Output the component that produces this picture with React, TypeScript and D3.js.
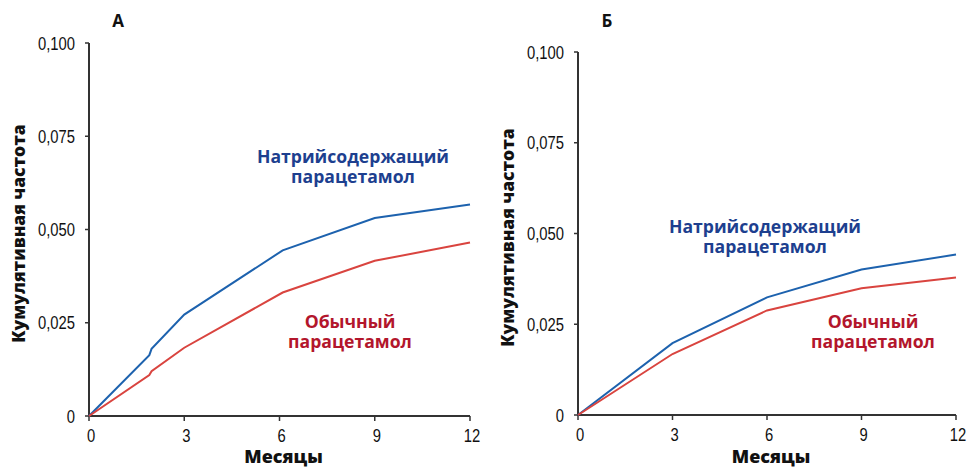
import React from 'react';
import * as d3 from 'd3';

type Pt = [number, number];

const xTicks = [0, 3, 6, 9, 12];
const yTicks = [0, 0.025, 0.05, 0.075, 0.1];
const yTickLabels = ['0', '0,025', '0,050', '0,075', '0,100'];

// Панель А
const sodiumA: Pt[] = [
  [0, 0], [1.9, 0.0163], [1.97, 0.018], [3, 0.0272], [6.1, 0.0444], [9, 0.0531], [12, 0.0567],
];
const regularA: Pt[] = [
  [0, 0], [1.9, 0.011], [1.97, 0.012], [3, 0.0183], [6.1, 0.0331], [9, 0.0416], [12, 0.0465],
];
// Панель Б
const sodiumB: Pt[] = [
  [0, 0], [3, 0.0198], [6, 0.0324], [9, 0.0401], [12, 0.0442],
];
const regularB: Pt[] = [
  [0, 0], [3, 0.0168], [6, 0.0288], [9, 0.0349], [12, 0.0379],
];

const BLUE_LINE = '#1d62ae';
const RED_LINE = '#d9443f';
const BLUE_TEXT = '#1d3f8f';
const RED_TEXT = '#b3162c';
const AXIS = '#333';
const tickFont = "'Liberation Sans', Arial, sans-serif";
const boldFont = "'Open Sans', 'Noto Sans', sans-serif";

type PanelProps = {
  letter: string;
  sodium: Pt[];
  regular: Pt[];
  x0: number;
  x1: number;
  yTop: number;
  yBottom: number;
  blueLabel: [number, number];
  redLabel: [number, number];
};

const Panel: React.FC<PanelProps> = ({ letter, sodium, regular, x0, x1, yTop, yBottom, blueLabel, redLabel }) => {
  const x = d3.scaleLinear().domain([0, 12]).range([x0, x1]);
  const y = d3.scaleLinear().domain([0, 0.1]).range([yBottom, yTop]);
  const line = d3.line<Pt>().x(d => x(d[0])).y(d => y(d[1]));
  const lbl = (a: string, b: string, cx: number, cy: number, fill: string) => (
    <text textAnchor="middle" fontFamily={boldFont} fontWeight={700} fontSize={17.6} fill={fill}>
      <tspan x={cx} y={cy}>{a}</tspan>
      <tspan x={cx} y={cy + 19.5}>{b}</tspan>
    </text>
  );
  // узкий шрифт подписей делений: сжимаем по горизонтали
  const tick = (tx: number, ty: number, anchor: string, s: string) => (
    <text
      transform={`translate(${tx},${ty}) scale(0.8,1)`}
      textAnchor={anchor}
      fontFamily={tickFont}
      fontSize={18.5}
      fill="#111"
    >
      {s}
    </text>
  );
  return (
    <g>
      <text x={x0 + 29} y={27} textAnchor="middle" fontFamily={boldFont} fontWeight={700} fontSize={17} fill="#111">
        {letter}
      </text>
      {/* оси */}
      <line x1={x0} x2={x0} y1={y(0.1)} y2={y(0)} stroke={AXIS} strokeWidth={2} />
      <line x1={x0} x2={x(12)} y1={y(0)} y2={y(0)} stroke={AXIS} strokeWidth={2} />
      {yTicks.map((t, i) => (
        <g key={t}>
          <line x1={x0 - 4} x2={x0} y1={y(t)} y2={y(t)} stroke={AXIS} strokeWidth={1.5} />
          {tick(x0 - 14, y(t) + 6.5, 'end', yTickLabels[i])}
        </g>
      ))}
      {xTicks.map(t => (
        <g key={t}>
          <line x1={x(t)} x2={x(t)} y1={y(0)} y2={y(0) + 5} stroke={AXIS} strokeWidth={1.5} />
          {tick(x(t) + 2, y(0) + 26, 'middle', String(t))}
        </g>
      ))}
      <text
        transform={`translate(${x0 - 64},${(y(0) + y(0.1)) / 2 + 4}) rotate(-90)`}
        textAnchor="middle"
        fontFamily={boldFont}
        fontWeight={800}
        fontSize={17.5}
        fill="#111"
      >
        Кумулятивная частота
      </text>
      <text x={(x0 + x(12)) / 2 + 4} y={463} textAnchor="middle" fontFamily={boldFont} fontWeight={800} fontSize={18} fill="#111">
        Месяцы
      </text>
      {/* линии */}
      <path d={line(sodium) || ''} fill="none" stroke={BLUE_LINE} strokeWidth={2} />
      <path d={line(regular) || ''} fill="none" stroke={RED_LINE} strokeWidth={2} />
      {lbl('Натрийсодержащий', 'парацетамол', blueLabel[0], blueLabel[1], BLUE_TEXT)}
      {lbl('Обычный', 'парацетамол', redLabel[0], redLabel[1], RED_TEXT)}
    </g>
  );
};

export default function App() {
  return (
    <svg width={970} height={468} style={{ position: 'absolute', left: 0, top: 0, background: '#fff' }}>
      <Panel
        letter="А"
        sodium={sodiumA}
        regular={regularA}
        x0={89}
        x1={470}
        yTop={43}
        yBottom={416}
        blueLabel={[353, 163]}
        redLabel={[350, 328]}
      />
      <Panel
        letter="Б"
        sodium={sodiumB}
        regular={regularB}
        x0={578}
        x1={956}
        yTop={52}
        yBottom={415}
        blueLabel={[765, 233]}
        redLabel={[873, 328]}
      />
    </svg>
  );
}
